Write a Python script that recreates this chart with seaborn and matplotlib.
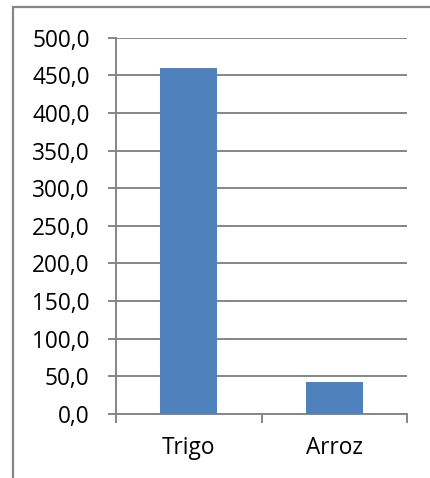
import matplotlib
matplotlib.use("Agg")
import matplotlib.pyplot as plt
import seaborn as sns
import pandas as pd
from matplotlib.patches import Rectangle
from matplotlib.ticker import FuncFormatter, FixedLocator

categories = ["Trigo", "Arroz"]
values = [460.0, 43.0]
y_ticks = [0, 50, 100, 150, 200, 250, 300, 350, 400, 450, 500]

sns.set_theme(style="white")
plt.rcParams['font.family'] = ['Open Sans', 'DejaVu Sans']

W, H = 430, 478
fig = plt.figure(figsize=(W / 100, H / 100), dpi=100)
ax = fig.add_axes([116 / W, 1 - 414 / H, (407 - 116) / W, (414 - 37.7) / H])

df = pd.DataFrame({"cat": categories, "val": values})
sns.barplot(data=df, x="cat", y="val", color="#4F81BD", saturation=1,
            width=0.395, ax=ax, zorder=3, linewidth=0)

grid_c = "#868686"
ax.set_ylim(0, 500)
ax.set_xlim(-0.5, 1.5)
ax.set_yticks(y_ticks)
ax.yaxis.set_major_formatter(FuncFormatter(lambda v, p: f"{v:.1f}".replace(".", ",")))
ax.yaxis.grid(True, color=grid_c, linewidth=1.4, zorder=0)
ax.set_axisbelow(True)
ax.set_xlabel("")
ax.set_ylabel("")

for s in ["top", "right"]:
    ax.spines[s].set_visible(False)
for s in ["left", "bottom"]:
    ax.spines[s].set_visible(True)
    ax.spines[s].set_color(grid_c)
    ax.spines[s].set_linewidth(1.4)

ax.tick_params(axis="y", which="major", length=6, width=1.4, color=grid_c,
               labelsize=16.3, labelcolor="black", pad=13, left=True)
ax.tick_params(axis="x", which="major", length=0, labelsize=16.3,
               labelcolor="black", pad=16, bottom=True)
ax.xaxis.set_minor_locator(FixedLocator([-0.5, 0.5, 1.5]))
ax.tick_params(axis="x", which="minor", length=6.5, width=1.4, color=grid_c, bottom=True)

border = Rectangle((13 / W, -0.1), 1.2, 1 - 7 / H + 0.1, transform=fig.transFigure,
                   fill=False, edgecolor=grid_c, linewidth=1.6, zorder=10)
fig.patches.append(border)

fig.savefig("out.png", dpi=100)
